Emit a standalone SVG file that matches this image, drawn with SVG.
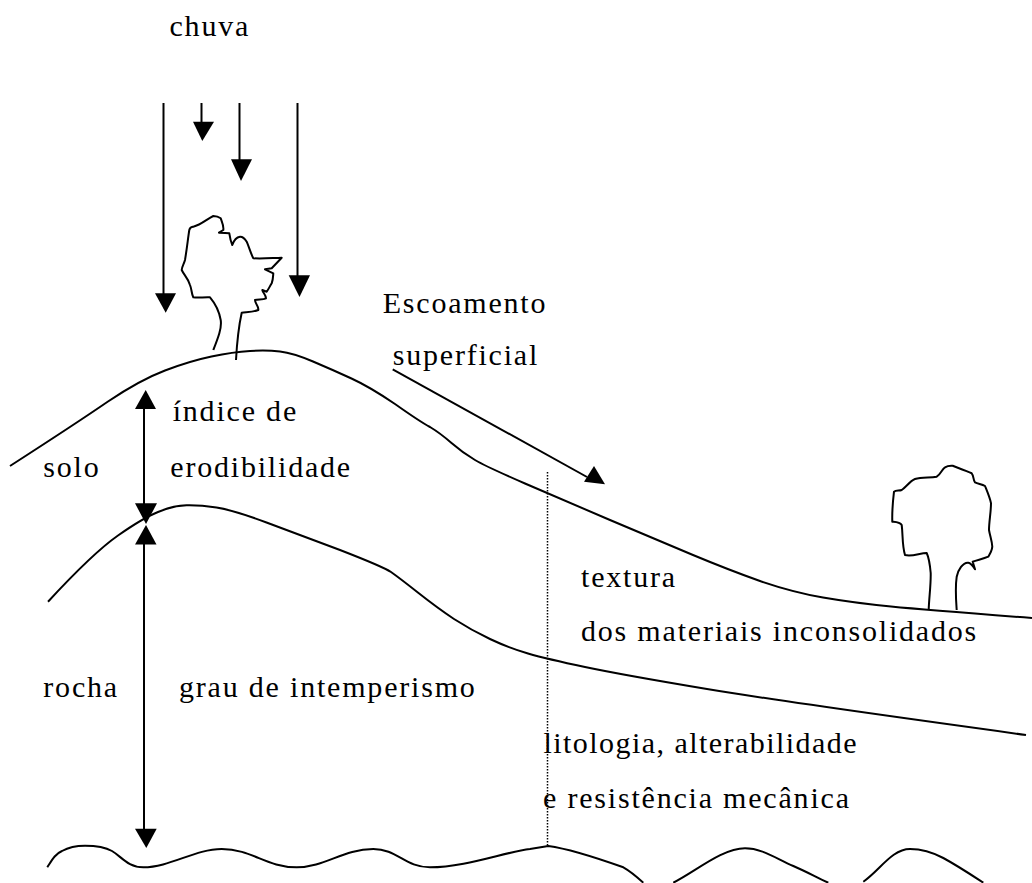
<svg xmlns="http://www.w3.org/2000/svg" width="1032" height="883" viewBox="0 0 1032 883">
  <style>
    .line { fill: none; stroke: #000; stroke-width: 2; stroke-linecap: butt; stroke-linejoin: round; }
    .shaft { fill: none; stroke: #000; stroke-width: 2; }
    .dots { fill: none; stroke: #000; stroke-width: 1.5; stroke-dasharray: 1.5 1.5; }
    .head { fill: #000; stroke: none; }
    text { font-family: "Liberation Serif", "Times New Roman", serif; font-size: 30px; letter-spacing: 1.8px; fill: #000; }
    text.tight { letter-spacing: 1.45px; }
  </style>

  <!-- terrain profiles -->
  <g id="terrain">
    <path id="ground" class="line" d="M10 466 Q76.7 423 108 401.5 Q140 380 165 370.5 Q190 361 211.5 356.5 Q233 352 250 351 Q266.7 350 280 351.5 Q293 353 313 361.5 Q333 370 351.5 378.5 Q370 387 395 404 Q420 421.7 430 427 Q440 433 451.5 443 Q463 453 475 460 Q487 467 525 483.5 Q563 500 610 520 Q657 540 693 555 Q729 570 760 581 Q792 592 823 597.5 Q855 603 891 606.5 Q927 610 1032 618"/>
    <path id="soil-base" class="line" d="M48 601.7 Q93 553 118 535.5 Q143 518 158 512 Q173 505.7 186.5 505.3 Q200 505 216.5 507.5 Q233 510 266.5 522.5 Q300 535 340 550 Q383 566.7 391 572 Q399.5 578 418.5 593 Q437.5 608 454 619 Q471 630 490 639 Q509 648 528 653.5 Q547 659 585 667 Q623 675 707 689 Q792 703 1026 735"/>
    <path id="bedrock" class="line" d="M47.3 867.3 C52 860 55 854 62 851 C70 846.5 78 845.7 85 845.7 C96 845.7 105 847 112 851 C122 857 128 867.3 143.3 867.3 C170 867.3 195 849 221.7 849 C252 849 266 867.3 296.7 867.3 C325 867.3 343 849 373.3 849 C397 849 405 867.3 430 867.3 C465 867.3 505 852 530 849 L548.3 846 C570 849 600 859 623.3 867.3 C630 871 636 876 643.3 882.7 M673.3 882.7 C695 872 722 848.3 745 848.3 C762 848.3 775 858 793.3 866 C805 871 816 877 828.3 882.7 M863.3 881.7 C880 870 892 849 910 849 C922 849 932 852 943.3 858 C958 866 970 874 983.3 882.7"/>
  </g>

  <!-- trees -->
  <g id="tree-hilltop">
    <path class="line" d="M213.3 350 C218 338 222 328 220.7 320 C219 310 214 302 210 297.3 C204 297 198 298 193.3 297.3 C191 292 192 290 190 285 C188 278 184 275 181.7 270 C182 266 184 264 185 260 C187 248 188 238 189.3 230 C190 227 192 227 193.3 226.7 C201 225 207 219 213.3 216 C216 216 219 217 220.7 218.3 C222 222 224 226 223.3 230 L219 232.7 L225 233 L229.3 233.3 C230 238 231 242 232.3 245 C234 240 237 237 240 236.7 C243 236.5 245 239 246.7 241.7 C249 247 251 254 253.3 258.3 C262 259 272 258 281.7 257.7 L271.7 268.3 L265 269.3 L273.3 273.3 C273 278 273 280 271.7 283.3 C270 286 268 290 266.7 291.7 L262.3 290 C263 293 266 295 266 298.3 C263 300 258 299 255 300 C255 304 259 306 258.3 310 C253 312 247 312 241.7 312.7 C239 325 237 342 236 360"/>
  </g>
  <g id="tree-valley">
    <path class="line" d="M928.7 610 C929 598 931 585 930.7 573 C930 565 929 558 926.7 553 C920 553 912 557 905 555 C902 545 903 535 901.7 525 C900 522 896 522 892.3 521.7 C892 512 893 500 894 491.7 C896 490 899 491 901.7 490 C906 487 910 481 915 479 C922 477 930 478 936.7 476.7 C941 474 942 469 945 467.3 C947 466 950 465.5 952.7 465.7 C959 468 966 471 971.7 473.3 C974 476 973 480 975 482.3 C978 484 982 484 985 486 C987 491 990 498 991 503.3 C991 512 989 522 989 530 C990 536 992 541 992.3 546.7 C992 550 990 554 988.3 556.7 C983 559 977 560 972.7 561.7 L975 569.3 C973 566 971 563 968.3 562.7 C963 562 958 570 956.7 576.7 C955 588 956 600 956.7 610"/>
  </g>

  <!-- arrows -->
  <g id="connectors">
    <path class="shaft" d="M163.5 103 V296"/>
    <polygon class="head" points="155,293.3 176,293.3 165.7,312.7"/>
    <path class="shaft" d="M201.5 103 V124"/>
    <polygon class="head" points="193,121.7 214,121.7 202.3,141"/>
    <path class="shaft" d="M239.5 103 V162"/>
    <polygon class="head" points="231,159.3 252,159.3 241,181"/>
    <path class="shaft" d="M297.5 103 V278"/>
    <polygon class="head" points="288.7,275.3 310,275.3 299.5,297"/>

    <path class="shaft" d="M144 405 V507"/>
    <polygon class="head" points="145.7,390 135,409 156,409"/>
    <polygon class="head" points="135,503.3 157,503.3 146,524"/>

    <path class="shaft" d="M144 542 V832"/>
    <polygon class="head" points="146,525 135,544.5 156.5,544.5"/>
    <polygon class="head" points="135,828.7 156.7,828.7 146.3,848"/>

    <path class="shaft" d="M392.7 369.3 L587 477"/>
    <polygon class="head" points="605,484.3 584,481.7 594,466"/>

    <path class="dots" d="M547.5 472 V847"/>
  </g>

  <!-- labels -->
  <g id="labels">
    <text x="169.5" y="36">chuva</text>
    <text x="382.7" y="312.5">Escoamento</text>
    <text x="392.7" y="365">superficial</text>
    <text x="172.7" y="421">índice de</text>
    <text x="43.3" y="477">solo</text>
    <text x="170.3" y="477">erodibilidade</text>
    <text x="581" y="586.7">textura</text>
    <text x="581" y="641">dos materiais inconsolidados</text>
    <text x="43.3" y="697">rocha</text>
    <text x="179" y="697">grau de intemperismo</text>
    <text class="tight" x="543.5" y="752.7">litologia, alterabilidade</text>
    <text x="543" y="808">e resistência mecânica</text>
  </g>
</svg>
